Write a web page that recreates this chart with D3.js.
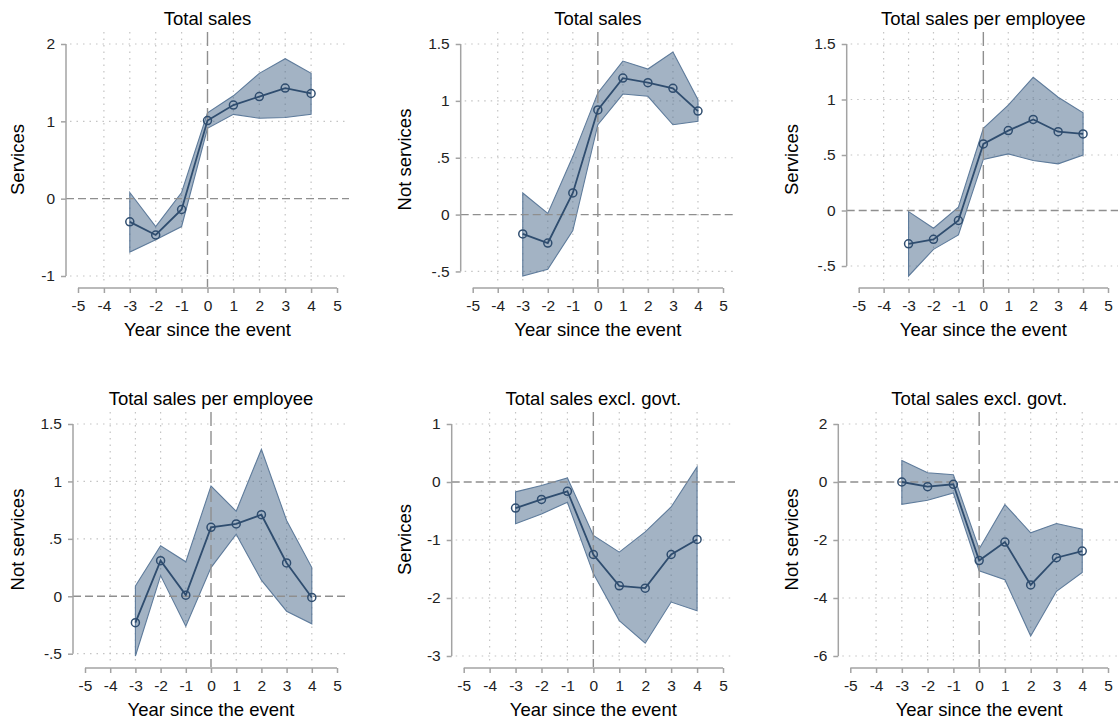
<!DOCTYPE html>
<html>
<head>
<meta charset="utf-8" />
<title>Event study: total sales</title>
<style>
  body { margin: 0; background: #fff; }
  text { font-family: "Liberation Sans", Arial, sans-serif; }
</style>
</head>
<body>
<script src="https://cdnjs.cloudflare.com/ajax/libs/d3/7.8.5/d3.min.js"></script>
<script>
var width = 1118,
    height = 722;

// data
var years = [-3, -2, -1, 0, 1, 2, 3, 4];
var xTicks = [-5, -4, -3, -2, -1, 0, 1, 2, 3, 4, 5];

var salesSvcCoef = [-0.30, -0.47, -0.14, 1.01, 1.21, 1.32, 1.43, 1.36];
var salesSvcLo   = [-0.69, -0.53, -0.36, 0.91, 1.09, 1.04, 1.05, 1.09];
var salesSvcHi   = [0.08, -0.36, 0.08, 1.11, 1.33, 1.62, 1.81, 1.62];

var salesNsvCoef = [-0.17, -0.25, 0.19, 0.92, 1.20, 1.16, 1.11, 0.91];
var salesNsvLo   = [-0.54, -0.48, -0.14, 0.79, 1.06, 1.04, 0.79, 0.82];
var salesNsvHi   = [0.19, 0.01, 0.51, 1.07, 1.35, 1.28, 1.43, 1.01];

var speSvcCoef = [-0.30, -0.26, -0.09, 0.60, 0.72, 0.82, 0.71, 0.69];
var speSvcLo   = [-0.59, -0.35, -0.22, 0.46, 0.51, 0.45, 0.42, 0.50];
var speSvcHi   = [-0.01, -0.16, 0.03, 0.74, 0.95, 1.20, 1.02, 0.88];

var speNsvCoef = [-0.23, 0.31, 0.01, 0.60, 0.63, 0.71, 0.29, -0.01];
var speNsvLo   = [-0.52, 0.18, -0.26, 0.25, 0.54, 0.14, -0.13, -0.24];
var speNsvHi   = [0.09, 0.44, 0.30, 0.96, 0.74, 1.28, 0.66, 0.25];

var exgSvcCoef = [-0.45, -0.30, -0.16, -1.25, -1.79, -1.83, -1.25, -0.99];
var exgSvcLo   = [-0.72, -0.55, -0.35, -1.58, -2.39, -2.78, -2.07, -2.22];
var exgSvcHi   = [-0.17, -0.06, 0.07, -0.92, -1.21, -0.86, -0.43, 0.26];

var exgNsvCoef = [0.00, -0.16, -0.08, -2.71, -2.07, -3.55, -2.61, -2.38];
var exgNsvLo   = [-0.77, -0.63, -0.38, -3.06, -3.37, -5.31, -3.77, -3.12];
var exgNsvHi   = [0.74, 0.32, 0.25, -2.31, -0.78, -1.75, -1.43, -1.63];

var titles  = ['Total sales', 'Total sales', 'Total sales per employee',
               'Total sales per employee', 'Total sales excl. govt.', 'Total sales excl. govt.'];
var yTitles = ['Services', 'Not services', 'Services', 'Not services', 'Services', 'Not services'];
var yTicksA = [-1, 0, 1, 2];
var yTicksB = [-0.5, 0, 0.5, 1, 1.5];
var yTicksC = [-3, -2, -1, 0, 1];
var yTicksD = [-6, -4, -2, 0, 2];

var panels = [
    { coef: salesSvcCoef, lo: salesSvcLo, hi: salesSvcHi, ticks: yTicksA },
    { coef: salesNsvCoef, lo: salesNsvLo, hi: salesNsvHi, ticks: yTicksB },
    { coef: speSvcCoef,   lo: speSvcLo,   hi: speSvcHi,   ticks: yTicksB },
    { coef: speNsvCoef,   lo: speNsvLo,   hi: speNsvHi,   ticks: yTicksB },
    { coef: exgSvcCoef,   lo: exgSvcLo,   hi: exgSvcHi,   ticks: yTicksC },
    { coef: exgNsvCoef,   lo: exgNsvLo,   hi: exgNsvHi,   ticks: yTicksD }
];

// layout
var lefts = [66, 460.7, 846.7, 73, 451.7, 838.3],
    rights = [349, 735, 1120],
    yTitleX = [18, 405, 792],
    rowOff = [0, 380];

var axisColor = '#a3a3a3',
    gridColor = '#c4c4c4',
    refColor = '#8f8f8f',
    bandFill = '#48678a',
    bandStroke = '#5e7b9b',
    lineColor = '#2f4d6f';

var fmt = function(v) {
    return String(v).replace(/^(-?)0\./, '$1.');
};

var svg = d3.select('body').append('svg')
    .attr('width', width)
    .attr('height', height);

panels.forEach(function(p, i) {
    var col = i % 3,
        row = Math.floor(i / 3),
        off = rowOff[row],
        L = lefts[i],
        R = rights[col],
        top = 32 + off,
        bottom = 287 + off;

    var data = years.map(function(yr, j) {
        return { year: yr, coef: p.coef[j], lo: p.lo[j], hi: p.hi[j] };
    });

    var x = d3.scaleLinear()
        .domain([-5, 5])
        .range([L + 12, R - 12]);

    var yMin = Math.min(d3.min(p.ticks), d3.min(p.lo)),
        yMax = Math.max(d3.max(p.ticks), d3.max(p.hi));
    var y = d3.scaleLinear()
        .domain([yMin, yMax])
        .range([276 + off, 44 + off]);

    var g = svg.append('g').attr('class', 'panel p' + i);

    // dotted grid
    g.selectAll('.hgrid')
        .data(p.ticks.filter(function(d) { return d !== 0; }))
    .enter().append('line')
        .attr('class', 'hgrid')
        .attr('x1', L + 4).attr('x2', R)
        .attr('y1', function(d) { return y(d); })
        .attr('y2', function(d) { return y(d); })
        .attr('stroke', gridColor)
        .attr('stroke-width', 1.2)
        .attr('stroke-dasharray', '1.5,5');

    g.selectAll('.vgrid')
        .data(xTicks.filter(function(d) { return d !== 0 && Math.abs(d) !== 5; }))
    .enter().append('line')
        .attr('class', 'vgrid')
        .attr('x1', function(d) { return x(d); })
        .attr('x2', function(d) { return x(d); })
        .attr('y1', top).attr('y2', bottom - 2)
        .attr('stroke', gridColor)
        .attr('stroke-width', 1.2)
        .attr('stroke-dasharray', '1.5,5');

    // confidence band
    var area = d3.area()
        .x(function(d) { return x(d.year); })
        .y0(function(d) { return y(d.lo); })
        .y1(function(d) { return y(d.hi); });

    g.append('path')
        .datum(data)
        .attr('d', area)
        .attr('fill', bandFill)
        .attr('fill-opacity', 0.5)
        .attr('stroke', bandStroke)
        .attr('stroke-width', 1.1);

    // reference lines
    g.append('line')
        .attr('x1', L).attr('x2', R)
        .attr('y1', y(0)).attr('y2', y(0))
        .attr('stroke', refColor)
        .attr('stroke-width', 1.4)
        .attr('stroke-dasharray', '8,4');

    g.append('line')
        .attr('x1', x(0)).attr('x2', x(0))
        .attr('y1', top).attr('y2', bottom)
        .attr('stroke', refColor)
        .attr('stroke-width', 1.4)
        .attr('stroke-dasharray', '14,5');

    // point estimates
    var line = d3.line()
        .x(function(d) { return x(d.year); })
        .y(function(d) { return y(d.coef); });

    g.append('path')
        .datum(data)
        .attr('d', line)
        .attr('fill', 'none')
        .attr('stroke', lineColor)
        .attr('stroke-width', 1.8);

    g.selectAll('.pt')
        .data(data)
    .enter().append('circle')
        .attr('class', 'pt')
        .attr('cx', function(d) { return x(d.year); })
        .attr('cy', function(d) { return y(d.coef); })
        .attr('r', 4)
        .attr('fill', 'none')
        .attr('stroke', lineColor)
        .attr('stroke-width', 1.5);

    // axes
    var yAxis = g.append('g')
        .attr('transform', 'translate(' + L + ',0)')
        .call(d3.axisLeft(y).tickValues(p.ticks).tickFormat(fmt)
            .tickSize(5).tickPadding(6));
    yAxis.select('.domain').remove();
    yAxis.append('line')
        .attr('y1', y(d3.min(p.ticks))).attr('y2', y(d3.max(p.ticks)))
        .attr('stroke', axisColor).attr('stroke-width', 1.5);

    var xAxis = g.append('g')
        .attr('transform', 'translate(0,' + (bottom + 1) + ')')
        .call(d3.axisBottom(x).tickValues(xTicks).tickFormat(fmt)
            .tickSize(5).tickPadding(7));
    xAxis.select('.domain').remove();
    xAxis.append('line')
        .attr('x1', x(-5)).attr('x2', x(5))
        .attr('stroke', axisColor).attr('stroke-width', 1.5);

    [yAxis, xAxis].forEach(function(a) {
        a.attr('font-size', null).attr('font-family', null);
        a.selectAll('.tick line').attr('stroke', axisColor).attr('stroke-width', 1.5);
        a.selectAll('.tick text')
            .attr('fill', '#222')
            .style('font-size', '15.5px');
    });

    // titles
    g.append('text')
        .attr('x', (L + R) / 2)
        .attr('y', 25 + off)
        .attr('text-anchor', 'middle')
        .style('font-size', '18.5px')
        .text(titles[i]);

    g.append('text')
        .attr('x', (L + R) / 2)
        .attr('y', 336 + off)
        .attr('text-anchor', 'middle')
        .style('font-size', '18.5px')
        .text('Year since the event');

    g.append('text')
        .attr('transform', 'translate(' + yTitleX[col] + ',' + ((top + bottom) / 2) + ') rotate(-90)')
        .attr('text-anchor', 'middle')
        .attr('dy', '0.35em')
        .style('font-size', '18.5px')
        .text(yTitles[i]);
});
</script>
</body>
</html>
